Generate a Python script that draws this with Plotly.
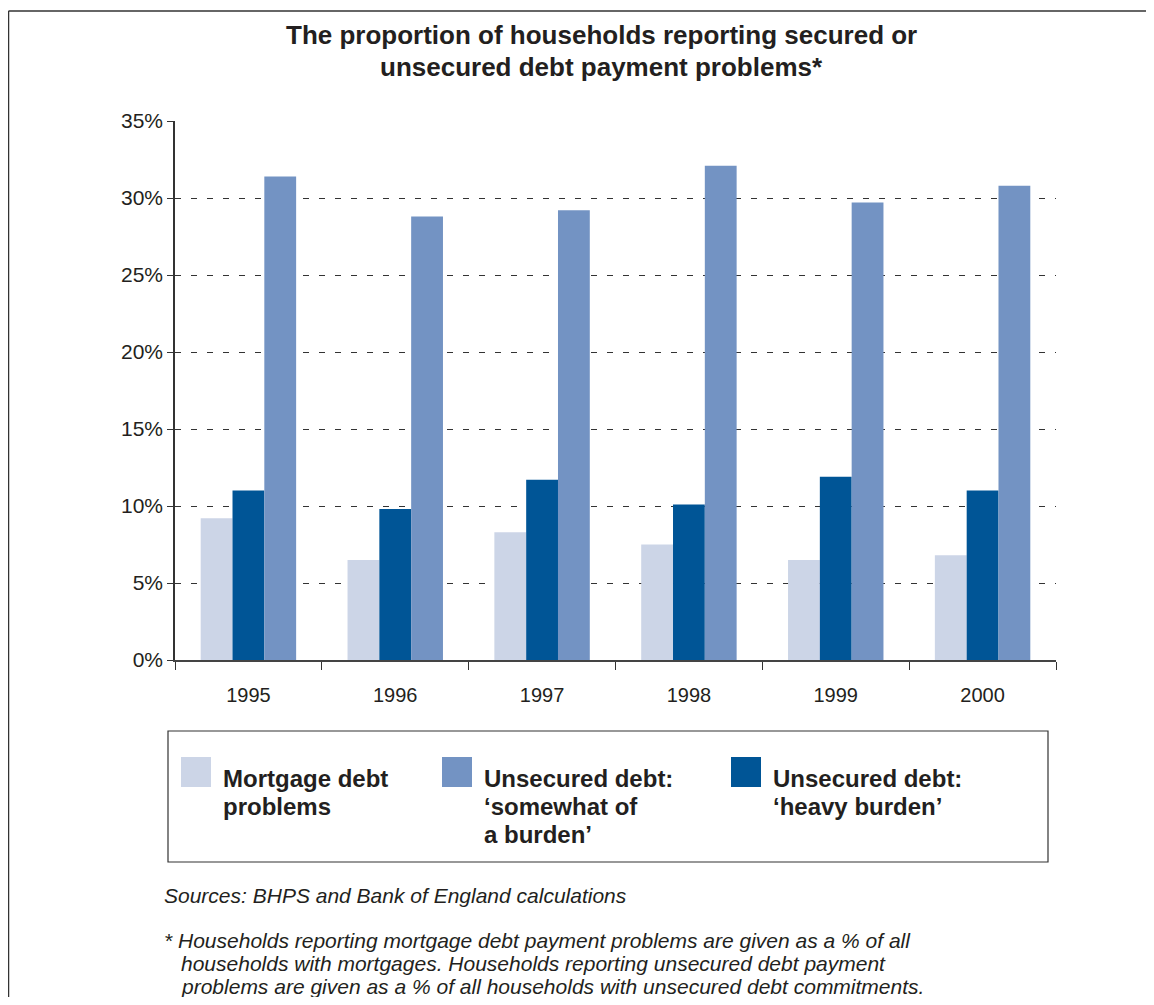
import plotly.graph_objects as go

years = ["1995", "1996", "1997", "1998", "1999", "2000"]
mortgage = [9.2, 6.5, 8.3, 7.5, 6.5, 6.8]
heavy_burden = [11.0, 9.8, 11.7, 10.1, 11.9, 11.0]
somewhat_burden = [31.4, 28.8, 29.2, 32.1, 29.7, 30.8]

# page is drawn with an 8px body margin, so the figure is shifted by OFF
OFF = 8
W, H = 1138, 989
L, R, T, B = 167, 90, 113, 337
PW, PH = W - L - R, H - T - B


def px(x):
    # page pixel -> paper x
    return (x - OFF - L) / PW


def py(y):
    # page pixel -> paper y
    return (H - B - (y - OFF)) / PH


LIGHT = "#ccd5e7"
MID = "#7393c3"
DARK = "#005596"
TXT = "#231f20"
FONT = "Liberation Sans, Arial, sans-serif"

fig = go.Figure()
fig.add_trace(go.Bar(x=years, y=mortgage, name="Mortgage debt problems",
                     marker=dict(color=LIGHT, line=dict(width=0))))
fig.add_trace(go.Bar(x=years, y=heavy_burden, name="Unsecured debt: 'heavy burden'",
                     marker=dict(color=DARK, line=dict(width=0))))
fig.add_trace(go.Bar(x=years, y=somewhat_burden, name="Unsecured debt: 'somewhat of a burden'",
                     marker=dict(color=MID, line=dict(width=0))))

fig.update_layout(
    width=W, height=H,
    margin=dict(l=L, r=R, t=T, b=B),
    paper_bgcolor="white", plot_bgcolor="white",
    barmode="group", bargap=0.35, bargroupgap=0,
    showlegend=False,
    font=dict(family=FONT, color=TXT),
)

# title lines
for yc, line in [(35, "The proportion of households reporting secured or"),
                 (67, "unsecured debt payment problems*")]:
    fig.add_annotation(text="<b>" + line + "</b>", xref="paper", yref="paper",
                       x=px(601), y=py(yc), xanchor="center", yanchor="middle",
                       showarrow=False, font=dict(size=26, color=TXT, family=FONT))

fig.update_yaxes(
    range=[0, 35], dtick=5, ticksuffix="%",
    showgrid=True, gridcolor="#333333", gridwidth=1, griddash="6px,10px",
    showline=True, linecolor="#333333", linewidth=1.5,
    ticks="outside", ticklen=6, tickcolor="#333333",
    tickfont=dict(size=21, color=TXT, family=FONT),
    zeroline=False,
)
fig.update_xaxes(
    showline=True, linecolor="#444444", linewidth=1.5,
    ticks="outside", ticklen=8, tickcolor="#333333", tickson="boundaries",
    ticklabelstandoff=16,
    tickfont=dict(size=20, color=TXT, family=FONT),
)

# outer frame: top and left edges only are visible in the original
frame = dict(color="#333333", width=1.5)
fig.add_shape(type="line", xref="paper", yref="paper",
              x0=px(8.5), x1=px(1200), y0=py(11), y1=py(11), line=frame)
fig.add_shape(type="line", xref="paper", yref="paper",
              x0=px(8.5), x1=px(8.5), y0=py(11), y1=py(1100), line=frame)

# legend box
fig.add_shape(type="rect", xref="paper", yref="paper",
              x0=px(168), x1=px(1048), y0=py(862), y1=py(731),
              line=dict(color="#333333", width=1.2), fillcolor="rgba(0,0,0,0)")

legend_items = [
    (181, LIGHT, ["Mortgage debt", "problems"]),
    (442, MID, ["Unsecured debt:", "‘somewhat of", "a burden’"]),
    (731, DARK, ["Unsecured debt:", "‘heavy burden’"]),
]
for x0, col, lines in legend_items:
    fig.add_shape(type="rect", xref="paper", yref="paper",
                  x0=px(x0), x1=px(x0 + 30), y0=py(787), y1=py(757),
                  line=dict(width=0), fillcolor=col)
    for i, line in enumerate(lines):
        fig.add_annotation(text="<b>" + line + "</b>", xref="paper", yref="paper",
                           x=px(x0 + 40), y=py(778 + 28 * i), xanchor="left", yanchor="middle",
                           align="left", showarrow=False,
                           font=dict(size=24, color=TXT, family=FONT))

notes = [
    (163, 895, "Sources: BHPS and Bank of England calculations"),
    (163, 940, "* Households reporting mortgage debt payment problems are given as a % of all"),
    (180, 963, "households with mortgages. Households reporting unsecured debt payment"),
    (180, 986, "problems are given as a % of all households with unsecured debt commitments."),
]
for x0, yc, line in notes:
    fig.add_annotation(text="<i>" + line + "</i>", xref="paper", yref="paper",
                       x=px(x0), y=py(yc), xanchor="left", yanchor="middle",
                       align="left", showarrow=False, borderpad=0,
                       font=dict(size=21, color=TXT, family=FONT))

fig.write_html("out.html")
